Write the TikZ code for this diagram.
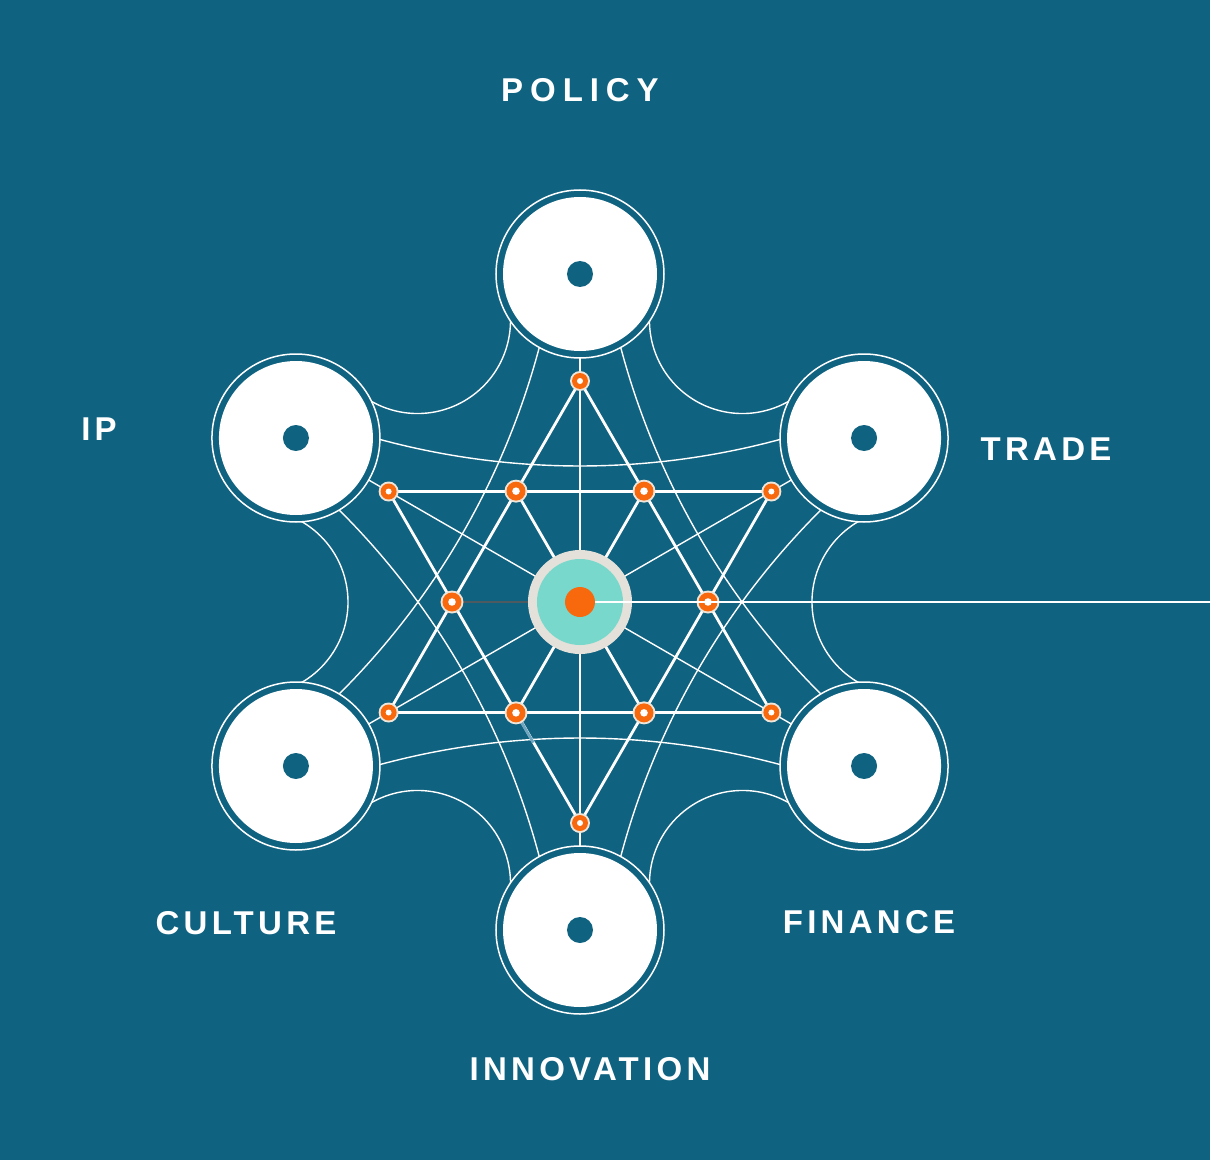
\documentclass[tikz,border=0pt]{standalone}
\usepackage{fontspec}
\setmainfont{Liberation Sans}
\usetikzlibrary{calc}
\definecolor{bg}{HTML}{0F6280}
\definecolor{orng}{HTML}{F8690E}
\definecolor{tealc}{HTML}{78D8CB}
\definecolor{ringgray}{HTML}{E3E1D9}
\definecolor{nodering}{HTML}{EEE6DA}
\definecolor{darkline}{HTML}{4D5A5F}
\definecolor{fade}{HTML}{6FA5BE}
\tikzset{
  thinline/.style={draw=white, line width=1.4pt},
  thickline/.style={draw=white, line width=2.8pt},
  grayline/.style={draw=darkline, line width=2.2pt},
  biglabel/.style={text=white, inner sep=0pt,
    font=\fontsize{33}{33}\selectfont\bfseries\addfontfeature{LetterSpace=13}},
  widelabel/.style={text=white, inner sep=0pt,
    font=\fontsize{33}{33}\selectfont\bfseries\addfontfeature{LetterSpace=21}}
}
\begin{document}
\begin{tikzpicture}[x=1pt,y=1pt]
\fill[bg] (-580,-558) rectangle (630,602);
\useasboundingbox (-580,-558) rectangle (630,602);
\coordinate (O) at (0,0);
\coordinate (Oe) at (15,0);
\coordinate (E) at (630,0);
\foreach \a in {90,30,330,270,210,150} {
  \coordinate (B\a) at (\a:328);
  \coordinate (T\a) at (\a:221);
  \coordinate (L\a) at (\a:903);
}
\foreach \a in {0,60,120,180,240,300} {
  \coordinate (H\a) at (\a:128);
  \coordinate (S\a) at (\a:325);
}
% thin arcs
\foreach \a in {0,60,120,180,240,300}
  \draw[thinline] (S\a) ++({\a+105}:93) arc[start angle={\a+105}, end angle={\a+255}, radius=93];
\foreach \a in {90,30,330,270,210,150}
  \draw[thinline] (L\a) ++({\a+159}:767) arc[start angle={\a+159}, end angle={\a+201}, radius=767];
% spokes
\foreach \a in {90,30,330,270,210,150}
  \draw[thinline] (B\a) -- (O);
% hexagram
\draw[thickline, line join=round] (T90) -- (T210) -- (T330) -- cycle;
\draw[thickline, line join=round] (T270) -- (T150) -- (T30) -- cycle;
\draw[thickline] (H120) -- (H300);
\draw[thickline] (H60) -- (H240);
\draw[grayline] (H180) -- (O);
\draw[thickline, draw=fade] (H240) -- ($(H240)!0.27!(T270)$);
% big circles
\foreach \a in {90,30,330,270,210,150} {
  \filldraw[fill=bg, draw=white, line width=1.5pt] (B\a) circle (84);
  \fill[white] (B\a) circle (77);
  \fill[bg] (B\a) circle (13);
}
% center
\fill[ringgray] (O) circle (52);
\fill[tealc] (O) circle (43);
\fill[orng] (O) circle (15);
% small nodes
\foreach \a in {90,30,330,270,210,150} {
  \fill[nodering] (T\a) circle (10);
  \fill[orng] (T\a) circle (8);
  \fill[white] (T\a) circle (3);
}
\foreach \a in {0,60,120,180,240,300} {
  \fill[nodering] (H\a) circle (11.5);
  \fill[orng] (H\a) circle (9.5);
  \fill[white] (H\a) circle (3.8);
}
\draw[thinline] (Oe) -- (E);
% labels
\node[widelabel] (policy) at (0,511.5) {POLICY};
\node[biglabel] (ip) at (-481,173) {IP};
\node[biglabel] (trade) at (466,153) {TRADE};
\node[biglabel] (culture) at (-334,-321.5) {CULTURE};
\node[biglabel] (finance) at (289,-320) {FINANCE};
\node[biglabel] (innovation) at (10,-467.5) {INNOVATION};
\end{tikzpicture}
\end{document}
